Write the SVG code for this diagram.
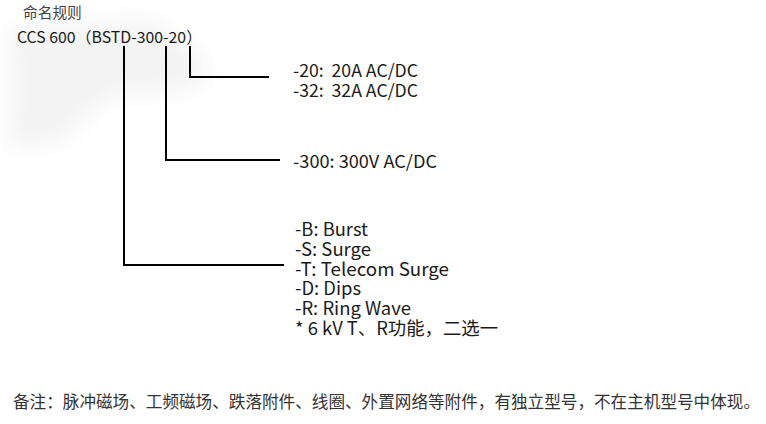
<svg xmlns="http://www.w3.org/2000/svg" width="766" height="424" viewBox="0 0 766 424">
<defs>
<filter id="blur" x="-50%" y="-50%" width="200%" height="200%"><feGaussianBlur stdDeviation="12"/></filter>
</defs>
<style>
text{font-family:"Noto Sans CJK SC","Noto Sans",sans-serif;fill:#1a1a1a}
.t{font-size:17.5px}
.f{font-size:18px}
.tt{font-size:15.5px}
.h{font-size:14.7px;fill:#444}
.n{font-size:16.8px;fill:#333}
.c{fill:none;stroke:#000;stroke-width:2}
</style>
<g id="bg" opacity="0.35">
<path d="M10 30 L150 20 L200 55 L210 75 L190 90 L110 95 L60 140 L10 150 Z" fill="#ddd" filter="url(#blur)"/>
</g>
<g id="title">
<text class="h" x="23" y="18">命名规则</text>
<text class="tt" x="17" y="43" textLength="185" lengthAdjust="spacingAndGlyphs">CCS 600（BSTD-300-20）</text>
</g>
<g id="connectors">
<path class="c" d="M124 46 V265 H284" stroke-width="1.6"/>
<path class="c" d="M166 46 V160 H280"/>
<path class="c" d="M190 46 V77 H269"/>
</g>
<g id="current">
<text class="t" x="293" y="77" xml:space="preserve" textLength="125" lengthAdjust="spacingAndGlyphs">-20:  20A AC/DC</text>
<text class="t" x="293" y="96.5" xml:space="preserve" textLength="125" lengthAdjust="spacingAndGlyphs">-32:  32A AC/DC</text>
</g>
<g id="voltage">
<text class="t" x="293" y="168" textLength="144" lengthAdjust="spacingAndGlyphs">-300: 300V AC/DC</text>
</g>
<g id="functions">
<text class="f" x="295" y="236" textLength="73" lengthAdjust="spacingAndGlyphs">-B: Burst</text>
<text class="f" x="295" y="256" textLength="76" lengthAdjust="spacingAndGlyphs">-S: Surge</text>
<text class="f" x="295" y="275.5" textLength="154" lengthAdjust="spacingAndGlyphs">-T: Telecom Surge</text>
<text class="f" x="295" y="295" textLength="66" lengthAdjust="spacingAndGlyphs">-D: Dips</text>
<text class="f" x="295" y="315" textLength="116" lengthAdjust="spacingAndGlyphs">-R: Ring Wave</text>
<text class="f" x="295" y="335" textLength="203" lengthAdjust="spacingAndGlyphs">* 6 kV T、R功能，二选一</text>
</g>
<g id="note">
<text class="n" x="13" y="408" textLength="747" lengthAdjust="spacingAndGlyphs">备注：脉冲磁场、工频磁场、跌落附件、线圈、外置网络等附件，有独立型号，不在主机型号中体现。</text>
</g>
</svg>
